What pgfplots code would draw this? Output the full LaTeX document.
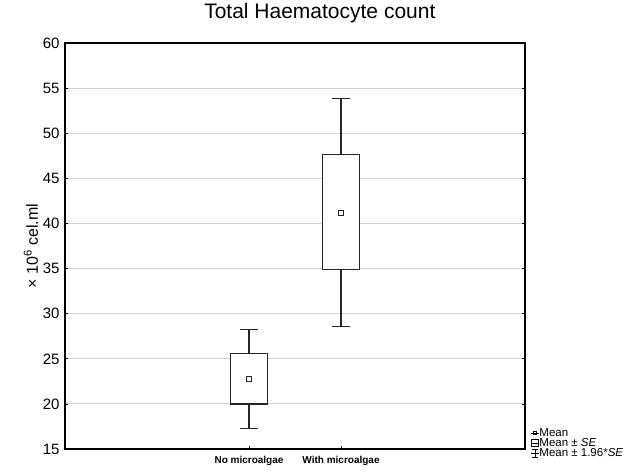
\documentclass[border=0pt]{standalone}
\usepackage{pgfplots}
\pgfplotsset{compat=1.18}
\usepackage{fontspec}
\setmainfont{Liberation Sans}
\begin{document}
\begin{tikzpicture}
\begin{axis}[name=ax,
  width=460pt,height=406pt,scale only axis,
  xmin=0,xmax=5,ymin=15,ymax=60,
  ytick={15,20,...,60},
  xtick={2,3},xticklabels={No microalgae,With microalgae},
  xtick pos=bottom,ytick pos=both,tick align=inside,major tick length=3pt,
  tick style={black,line width=0.8pt},
  ymajorgrids,grid style={gray!35,line width=1pt},
  axis line style={black,line width=1.2pt},
  /pgf/number format/assume math mode=true,
  yticklabel style={font=\fontsize{15}{17}\selectfont,xshift=-2pt},
  xticklabel style={font=\bfseries\fontsize{10}{12}\selectfont,yshift=-4pt},
  ylabel={× 10\textsuperscript{6} cel.ml},
  ylabel style={at={(-0.074,0.5)},anchor=center,font=\fontsize{16}{18}\selectfont},
  title={Total Haematocyte count},
  title style={at={(0.554,1.059)},anchor=center,font=\fontsize{21}{24}\selectfont},
  legend style={at={(1.012,0.052)},anchor=north west,draw=none,fill=none,
    font=\fontsize{11.5}{12}\selectfont,row sep=0pt,inner sep=0pt,
    nodes={inner sep=0.3pt}},
  legend cell align=left,
]
% whiskers: mean +/- 1.96*SE
\addplot[draw=none,mark=none,forget plot,
  error bars/.cd,y dir=both,y explicit,
  error bar style={black!85,line width=1.1pt},
  error mark options={rotate=90,mark size=9pt,black!85,line width=1.1pt}]
  coordinates {(2,22.75) += (0,5.55) -= (0,5.45)
               (3,41.2) += (0,12.7) -= (0,12.6)};
% boxes: mean +/- SE
\addplot[fill=white,draw=black!85,line width=1.1pt,forget plot]
  coordinates {(1.8,20.0) (2.2,20.0) (2.2,25.6) (1.8,25.6) (1.8,20.0)} -- cycle;
\addplot[fill=white,draw=black!85,line width=1.1pt,forget plot]
  coordinates {(2.8,34.9) (3.2,34.9) (3.2,47.7) (2.8,47.7) (2.8,34.9)} -- cycle;
% means
\addplot[only marks,mark=square,mark size=2.4pt,black!85,line width=1pt,forget plot]
  coordinates {(2,22.75) (3,41.2)};
\addlegendimage{legend image code/.code={
  \path (0pt,0pt) -- (8pt,0pt);
  \draw[black,line width=0.8pt] (2.3pt,-1.7pt) rectangle (5.7pt,1.7pt);}}
\addlegendentry{Mean}
\addlegendimage{legend image code/.code={
  \path (0pt,0pt) -- (8pt,0pt);
  \draw[black,line width=0.8pt] (0.5pt,-3.4pt) rectangle (7.5pt,3.4pt);}}
\addlegendentry{Mean ± \textit{SE}}
\addlegendimage{legend image code/.code={
  \path (0pt,0pt) -- (8pt,0pt);
  \draw[black,line width=0.8pt] (4pt,-4.3pt) -- (4pt,4.3pt)
    (0.8pt,4.3pt) -- (7.2pt,4.3pt) (0.8pt,-4.3pt) -- (7.2pt,-4.3pt);}}
\addlegendentry{Mean ± 1.96*\textit{SE}}
\end{axis}
\path ([shift={(-65pt,-25pt)}]ax.south west) rectangle ([shift={(108pt,41pt)}]ax.north east);
\end{tikzpicture}
\end{document}
